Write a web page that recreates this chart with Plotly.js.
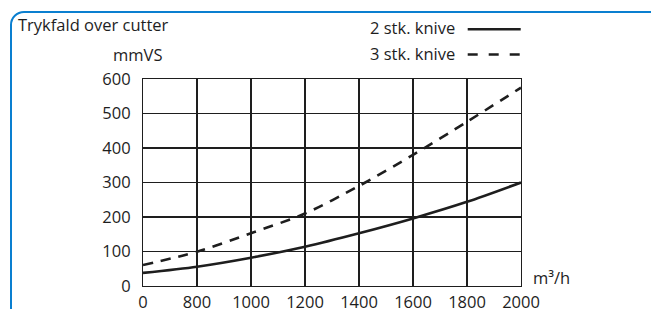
<!DOCTYPE html>
<html>
<head>
<meta charset="utf-8">
<script src="https://cdn.plot.ly/plotly-3.0.1.min.js"></script>
<style>
  html, body { margin: 0; padding: 0; background: #ffffff; overflow: hidden; }
  #wrap { position: relative; width: 651px; height: 309px; overflow: hidden; }
  #frame { position: absolute; left: 10px; top: 11px; width: 660px; height: 320px;
           border: 2px solid #0a7fd0; border-radius: 14px; box-sizing: border-box; }
  #chart { position: absolute; left: 0; top: 0; width: 651px; height: 309px; }
</style>
</head>
<body>
<div id="wrap">
  <div id="frame"></div>
  <div id="chart"></div>
</div>
<script>
// Flow (m³/h) tick labels – the axis is evenly spaced per tick
const flowTicks = ["0", "800", "1000", "1200", "1400", "1600", "1800", "2000"];
// Pressure drop (mmVS) read at each tick
const knive2 = [38, 56, 82, 114, 153, 196, 244, 300];
const knive3 = [61, 99, 153, 210, 290, 380, 476, 575];
const yTicks = [0, 100, 200, 300, 400, 500, 600];
const seriesNames = ["2 stk. knive", "3 stk. knive"];

const W = 651, H = 309;
const L = 143.3, R = 521.3, T = 79, B = 286;
const px = v => (v - L) / (R - L);
const py = v => (B - v) / (B - T);

const FONT = "Open Sans, Noto Sans, sans-serif";
const INK = "#1e1e1e";

const traces = [
  { x: flowTicks, y: knive2, name: seriesNames[0], type: "scatter", mode: "lines",
    line: { color: INK, width: 2.6, shape: "spline", smoothing: 0.8 }, showlegend: false },
  { x: flowTicks, y: knive3, name: seriesNames[1], type: "scatter", mode: "lines",
    line: { color: INK, width: 2.6, shape: "spline", smoothing: 0.8, dash: "10px,8px" }, showlegend: false }
];

const layout = {
  width: W, height: H,
  margin: { l: L, r: W - R, t: T, b: H - B, pad: 0 },
  paper_bgcolor: "rgba(0,0,0,0)",
  plot_bgcolor: "rgba(0,0,0,0)",
  font: { family: FONT, size: 16.5, color: INK },
  showlegend: false,
  xaxis: {
    type: "category", categoryorder: "array", categoryarray: flowTicks,
    range: [0, 7], showgrid: true, gridcolor: INK, gridwidth: 1.1,
    showline: true, linecolor: INK, linewidth: 1.1, mirror: true,
    ticks: "outside", ticklen: 1, tickcolor: "rgba(0,0,0,0)",
    zeroline: false, fixedrange: true,
    tickfont: { family: FONT, size: 16.5, color: INK }
  },
  yaxis: {
    range: [0, 600], tickvals: yTicks, showgrid: true, gridcolor: INK, gridwidth: 1.1,
    showline: true, linecolor: INK, linewidth: 1.1, mirror: true,
    ticks: "outside", ticklen: 8, tickcolor: "rgba(0,0,0,0)",
    zeroline: false, fixedrange: true,
    tickfont: { family: FONT, size: 16.5, color: INK }
  },
  annotations: [
    { text: "Trykfald over cutter", xref: "paper", yref: "paper", x: px(16), y: py(25),
      xanchor: "left", yanchor: "middle", showarrow: false },
    { text: "mmVS", xref: "paper", yref: "paper", x: px(137.5), y: py(55),
      xanchor: "center", yanchor: "middle", showarrow: false },
    { text: "m³/h", xref: "paper", yref: "paper", x: px(531), y: py(277),
      xanchor: "left", yanchor: "middle", showarrow: false },
    { text: seriesNames[0], xref: "paper", yref: "paper", x: px(457), y: py(27),
      xanchor: "right", yanchor: "middle", showarrow: false },
    { text: seriesNames[1], xref: "paper", yref: "paper", x: px(457), y: py(54),
      xanchor: "right", yanchor: "middle", showarrow: false }
  ],
  shapes: [
    { type: "line", xref: "paper", yref: "paper", x0: px(468), x1: px(521), y0: py(29.3), y1: py(29.3),
      line: { color: INK, width: 2.6 } },
    { type: "line", xref: "paper", yref: "paper", x0: px(468), x1: px(521), y0: py(54.5), y1: py(54.5),
      line: { color: INK, width: 2.6, dash: "10px,11px" } }
  ]
};

Plotly.newPlot("chart", traces, layout, { displayModeBar: false, staticPlot: true });
</script>
</body>
</html>
